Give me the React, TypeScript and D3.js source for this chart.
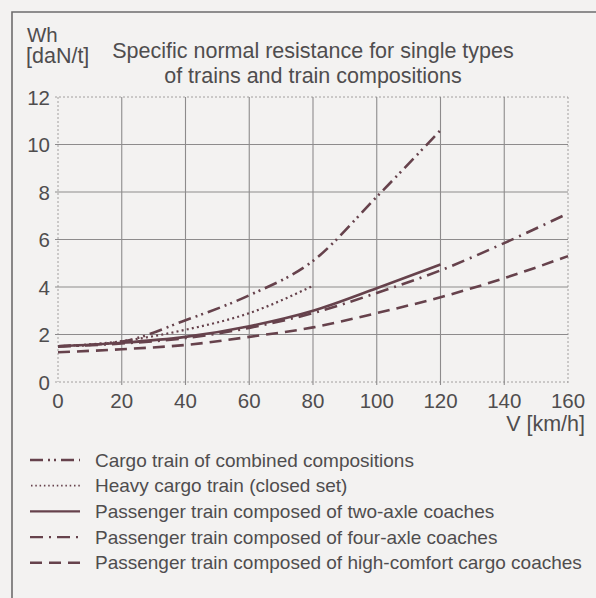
import React, { useEffect, useRef } from 'react'
import { scaleLinear, line, select, curveMonotoneX } from 'd3'

// Data (V in km/h, Wh in daN/t)
const speeds = [0, 20, 40, 60, 80, 100, 120, 140, 160]
const cargoCombined = [1.5, 1.7, 2.6, 3.65, 5.1, 7.8, 10.6]
const heavyCargo = [1.5, 1.72, 2.2, 2.9, 4.05]
const twoAxle = [1.5, 1.65, 1.9, 2.35, 3.0, 3.95, 4.95]
const fourAxle = [1.5, 1.62, 1.85, 2.28, 2.9, 3.75, 4.7, 5.85, 7.1]
const highComfort = [1.25, 1.38, 1.56, 1.9, 2.3, 2.9, 3.57, 4.37, 5.3]

const yTicks = [0, 2, 4, 6, 8, 10, 12]
const xTicks = [0, 20, 40, 60, 80, 100, 120, 140, 160]

const seriesNames = [
    'Cargo train of combined compositions',
    'Heavy cargo train (closed set)',
    'Passenger train composed of two-axle coaches',
    'Passenger train composed of four-axle coaches',
    'Passenger train composed of high-comfort cargo coaches',
]

// Style
const lineColor = '#66424c'
const textColor = '#4f4d4e'
const gridColor = '#8d8b8c'
const font = '"Liberation Sans", Arial, Helvetica, sans-serif'
const dashes = ['13 5 2 4 2 5', '2 3.2', null, '13 6 2 6', '12 7']

const App = () => {
    const svgRef = useRef()

    useEffect(() => {
        const svg = select(svgRef.current)
        svg.selectAll('*').remove()

        const xScale = scaleLinear().domain([0, 160]).range([58, 568])
        const yScale = scaleLinear().domain([0, 12]).range([382, 97])

        // page + frame
        svg.append('rect').attr('width', 596).attr('height', 598).attr('fill', '#f3f2f1')
        svg.append('path')
            .attr('d', 'M12,598 L12,12 L596,12')
            .attr('fill', 'none')
            .attr('stroke', '#6e6c6d')
            .attr('stroke-width', 1.6)

        // grid
        const grid = svg.append('g')
        xTicks.forEach((t) => {
            const edge = t === 160
            grid.append('line')
                .attr('x1', xScale(t)).attr('x2', xScale(t))
                .attr('y1', yScale(12)).attr('y2', yScale(0) + (t === 0 ? 0 : 3))
                .attr('stroke', gridColor)
                .attr('stroke-width', edge || t === 0 ? 0.8 : 1.1)
                .attr('stroke-dasharray', edge || t === 0 ? '2 2' : null)
        })
        yTicks.forEach((t) => {
            const edge = t === 0 || t === 12
            grid.append('line')
                .attr('x1', xScale(0) - 3).attr('x2', xScale(160))
                .attr('y1', yScale(t)).attr('y2', yScale(t))
                .attr('stroke', gridColor)
                .attr('stroke-width', edge ? 0.8 : 1.1)
                .attr('stroke-dasharray', edge ? '2 2' : null)
        })

        // tick labels
        svg.append('g').selectAll('text').data(yTicks).join('text')
            .attr('x', 50).attr('y', (d) => yScale(d) + 7.5)
            .attr('text-anchor', 'end')
            .attr('font-size', 20.5)
            .attr('font-family', font)
            .attr('fill', textColor)
            .text((d) => d)
        svg.append('g').selectAll('text').data(xTicks).join('text')
            .attr('x', (d) => xScale(d)).attr('y', 408)
            .attr('text-anchor', 'middle')
            .attr('font-size', 20.5)
            .attr('font-family', font)
            .attr('fill', textColor)
            .text((d) => d)

        // labels and title
        const label = (x, y, txt, anchor = 'start', size = 21.5) =>
            svg.append('text')
                .attr('x', x).attr('y', y)
                .attr('text-anchor', anchor)
                .attr('font-size', size)
                .attr('font-family', font)
                .attr('fill', textColor)
                .text(txt)
        label(27, 42, 'Wh', 'start', 20.5)
        label(26, 63, '[daN/t]')
        label(313, 58, 'Specific normal resistance for single types', 'middle', 21.5)
        label(313, 82.5, 'of trains and train compositions', 'middle', 21.5)
        label(585, 431, 'V [km/h]', 'end')

        // curves
        const allSeries = [cargoCombined, heavyCargo, twoAxle, fourAxle, highComfort]
        const linea = line()
            .x((d) => xScale(d[0]))
            .y((d) => yScale(d[1]))
            .curve(curveMonotoneX)
        allSeries.forEach((vals, idx) => {
            svg.append('path')
                .attr('d', linea(vals.map((v, i) => [speeds[i], v])))
                .attr('fill', 'none')
                .attr('stroke', lineColor)
                .attr('stroke-width', idx === 1 ? 2.2 : 2.6)
                .attr('stroke-dasharray', dashes[idx])
        })

        // legend
        seriesNames.forEach((name, idx) => {
            const y = 460 + idx * 25.7
            svg.append('line')
                .attr('x1', idx === 1 ? 31 : 30).attr('x2', 80)
                .attr('y1', y).attr('y2', y)
                .attr('stroke', lineColor)
                .attr('stroke-width', idx === 1 ? 1.8 : 2.4)
                .attr('stroke-dasharray', idx === 1 ? '1.5 2.8' : dashes[idx])
            label(95, y + 6.5, name, 'start', 19)
        })
    }, [])

    return (
        <svg
            ref={svgRef}
            width={596}
            height={598}
            style={{ position: 'absolute', left: 0, top: 0 }}
        />
    )
}

export default App
